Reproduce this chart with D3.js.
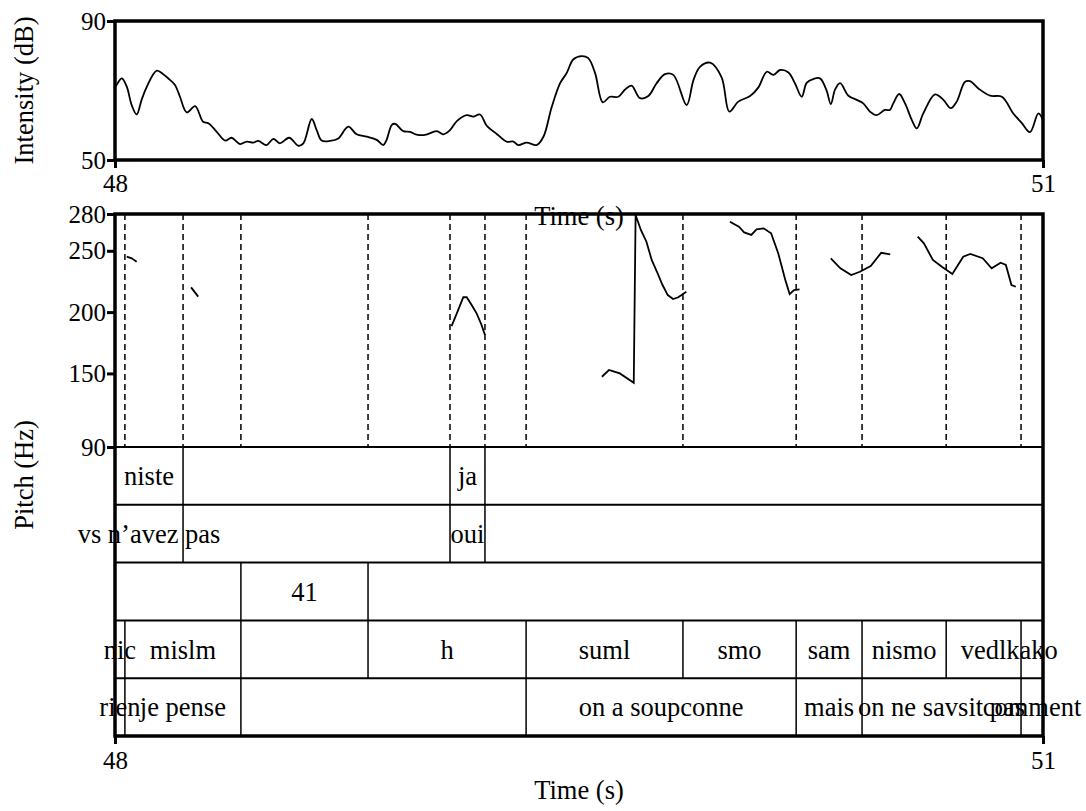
<!DOCTYPE html>
<html>
<head>
<meta charset="utf-8">
<script src="https://cdnjs.cloudflare.com/ajax/libs/d3/7.8.5/d3.min.js"></script>
<style>
    body { margin: 0; background: #fff; }
    text { font-family: "Liberation Serif", "Times New Roman", serif; font-size: 26.5px; fill: #000; }
    .tick text { font-size: 25px; }
</style>
</head>
<body>
<div id="chart"></div>
<script>
// time window (s)
const timeRange = [48, 51];
const intensityRange = [50, 90];
const pitchRange = [90, 280];
const pitchTicks = [90, 150, 200, 250, 280];

// intensity contour
const intensityTime = [48.000, 48.005, 48.022, 48.038, 48.054, 48.070, 48.086, 48.102, 48.135, 48.156,
    48.172, 48.194, 48.210, 48.232, 48.259, 48.285, 48.302, 48.329, 48.356, 48.377,
    48.404, 48.426, 48.447, 48.463, 48.490, 48.512, 48.533, 48.563, 48.593, 48.609,
    48.636, 48.652, 48.668, 48.695, 48.722, 48.754, 48.781, 48.814, 48.846, 48.867,
    48.878, 48.895, 48.906, 48.932, 48.954, 48.975, 49.002, 49.040, 49.061, 49.083,
    49.105, 49.137, 49.158, 49.180, 49.202, 49.234, 49.266, 49.288, 49.304, 49.331,
    49.363, 49.385, 49.412, 49.439, 49.460, 49.482, 49.509, 49.530, 49.552, 49.577,
    49.600, 49.627, 49.649, 49.670, 49.697, 49.724, 49.751, 49.778, 49.805, 49.848,
    49.870, 49.891, 49.924, 49.961, 49.986, 50.015, 50.053, 50.080, 50.107, 50.128,
    50.150, 50.177, 50.198, 50.220, 50.236, 50.257, 50.279, 50.300, 50.314, 50.328,
    50.344, 50.371, 50.398, 50.419, 50.441, 50.462, 50.489, 50.505, 50.516, 50.535,
    50.554, 50.576, 50.592, 50.613, 50.651, 50.678, 50.702, 50.721, 50.748, 50.764,
    50.791, 50.829, 50.867, 50.904, 50.931, 50.958, 50.985, 51.000];
const intensityDb = [71.0, 71.6, 73.5, 71.1, 65.8, 63.1, 67.3, 70.9, 75.7, 74.7,
    73.5, 71.6, 68.2, 63.7, 65.5, 61.0, 60.6, 58.1, 55.6, 56.4,
    54.6, 55.3, 55.0, 55.5, 54.3, 56.1, 54.8, 56.4, 54.1, 54.8,
    61.8, 58.6, 55.6, 55.5, 56.2, 59.6, 57.4, 56.7, 55.8, 54.3,
    55.8, 60.1, 60.4, 58.3, 58.1, 57.3, 57.2, 58.3, 57.4, 58.6,
    61.2, 62.9, 62.5, 63.1, 59.8, 57.5, 55.3, 55.3, 54.3, 55.0,
    54.3, 56.7, 65.3, 72.1, 75.0, 79.0, 79.9, 79.3, 75.0, 66.6,
    68.2, 68.2, 70.3, 71.4, 67.8, 68.4, 72.1, 74.7, 74.5, 65.8,
    73.0, 76.8, 78.0, 73.8, 63.9, 66.8, 68.4, 70.9, 75.4, 74.5,
    75.9, 75.2, 72.1, 68.2, 72.2, 73.3, 73.5, 70.1, 66.1, 70.3,
    72.1, 68.5, 67.3, 66.3, 63.9, 62.9, 64.4, 64.4, 66.3, 69.0,
    66.3, 61.5, 59.1, 63.4, 68.9, 67.3, 64.9, 66.8, 72.5, 72.7,
    70.6, 68.5, 68.2, 63.4, 60.7, 58.0, 63.4, 61.5];

// voiced pitch stretches [time, Hz]
const pitch1 = [[48.038, 245.2], [48.054, 243.9], [48.070, 241.1]];
const pitch2 = [[48.246, 220.2], [48.269, 212.6]];
const pitch3 = [[49.088, 188.6], [49.105, 199.0], [49.126, 212.1], [49.137, 212.1], [49.153, 205.8],
    [49.169, 199.0], [49.185, 189.5], [49.196, 181.3]];
const pitch4 = [[49.574, 147.3], [49.597, 152.8], [49.614, 151.4], [49.632, 150.0], [49.677, 142.4],
    [49.683, 279.2], [49.700, 267.0], [49.718, 257.4], [49.735, 242.5], [49.752, 232.9],
    [49.770, 222.1], [49.787, 213.9], [49.804, 210.7], [49.821, 212.1], [49.847, 216.6]];
const pitch5 = [[49.988, 273.7], [50.017, 269.6], [50.034, 265.0], [50.057, 262.9], [50.074, 267.5],
    [50.097, 268.3], [50.121, 264.3], [50.144, 248.0], [50.167, 226.2], [50.181, 214.7],
    [50.195, 218.0], [50.213, 218.6]];
const pitch6 = [[50.314, 243.9], [50.345, 235.7], [50.380, 230.2], [50.408, 232.9], [50.443, 237.6],
    [50.477, 248.4], [50.506, 247.1]];
const pitch7 = [[50.595, 261.5], [50.615, 256.1], [50.644, 242.5], [50.673, 237.0], [50.707, 231.1],
    [50.742, 245.2], [50.765, 247.4], [50.805, 243.9], [50.834, 235.7], [50.863, 240.3],
    [50.880, 238.4], [50.898, 222.1], [50.912, 220.7]];

// textgrid tiers: interval bounds and their labels
const tier1Bounds = [48, 48.220, 49.083, 49.196, 51];
const tier1Labels = ['niste', '', 'ja', ''];
const tier2Bounds = [48, 48.220, 49.083, 49.196, 51];
const tier2Labels = ['vs n’avez pas', '', 'oui', ''];
const tier3Bounds = [48, 48.407, 48.818, 51];
const tier3Labels = ['', '41', ''];
const tier4Bounds = [48, 48.032, 48.407, 48.818, 49.329, 49.836, 50.202, 50.415, 50.687, 50.929, 51];
const tier4Labels = ['nic', 'mislm', '', 'h', 'suml', 'smo', 'sam', 'nismo', 'vedl', 'kako'];
const tier5Bounds = [48, 48.032, 48.407, 49.329, 50.202, 50.415, 50.929, 51];
const tier5Labels = ['rien', 'je pense', '', 'on a soupconne', 'mais', 'on ne savsit pas', 'comment'];

const width = 1086, height = 811;
const left = 115, right = 1043;
const intTop = 21, intBottom = 160;
const pitchTop = 214, pitchBottom = 447, gridBottom = 736;

const svg = d3.select('#chart').append('svg')
    .attr('width', width)
    .attr('height', height);

const x = d3.scaleLinear().domain(timeRange).range([left, right]);
const yInt = d3.scaleLinear().domain(intensityRange).range([intBottom, intTop]);
const yPitch = d3.scaleLinear().domain(pitchRange).range([pitchBottom, pitchTop]);

function styleAxis(g) {
    g.select('.domain').remove();
    g.selectAll('.tick line').attr('stroke', '#000').attr('stroke-width', 3);
}

// ---- intensity panel ----
svg.append('g')
    .attr('transform', 'translate(' + left + ',0)')
    .call(d3.axisLeft(yInt).tickValues(intensityRange).tickSize(8).tickPadding(1))
    .call(styleAxis);

svg.append('g')
    .attr('transform', 'translate(0,' + intBottom + ')')
    .call(d3.axisBottom(x).tickValues(timeRange).tickFormat(d3.format('d')).tickSize(8).tickPadding(6))
    .call(styleAxis);

const intensityLine = d3.line()
    .x(function(d, i) { return x(intensityTime[i]); })
    .y(function(d) { return yInt(d); })
    .curve(d3.curveCatmullRom);

svg.append('path')
    .datum(intensityDb)
    .attr('fill', 'none')
    .attr('stroke', '#000')
    .attr('stroke-width', 1.8)
    .attr('d', intensityLine);

svg.append('rect')
    .attr('x', left).attr('y', intTop)
    .attr('width', right - left).attr('height', intBottom - intTop)
    .attr('fill', 'none').attr('stroke', '#000').attr('stroke-width', 3.5);

svg.append('text')
    .attr('transform', 'translate(33,' + (intTop + intBottom) / 2 + ') rotate(-90)')
    .attr('text-anchor', 'middle')
    .text('Intensity (dB)');

svg.append('text')
    .attr('x', (left + right) / 2)
    .attr('y', 225)
    .attr('text-anchor', 'middle')
    .text('Time (s)');

// ---- pitch panel + tiers ----
const tiers = [
    { bounds: tier1Bounds, labels: tier1Labels },
    { bounds: tier2Bounds, labels: tier2Labels },
    { bounds: tier3Bounds, labels: tier3Labels },
    { bounds: tier4Bounds, labels: tier4Labels },
    { bounds: tier5Bounds, labels: tier5Labels }
];
const tierH = (gridBottom - pitchBottom) / tiers.length;

// dashed boundaries through the pitch area: every interior tier boundary
const allBounds = Array.from(new Set(tiers.flatMap(function(t) { return t.bounds.slice(1, -1); })))
    .sort(d3.ascending);

svg.append('g').selectAll('line')
    .data(allBounds)
    .enter().append('line')
    .attr('x1', function(d) { return x(d); })
    .attr('x2', function(d) { return x(d); })
    .attr('y1', pitchTop)
    .attr('y2', pitchBottom)
    .attr('stroke', '#000')
    .attr('stroke-width', 1.5)
    .attr('stroke-dasharray', '6,4');

const pitchLine = d3.line()
    .x(function(d) { return x(d[0]); })
    .y(function(d) { return yPitch(d[1]); });

svg.append('g').selectAll('path')
    .data([pitch1, pitch2, pitch3, pitch4, pitch5, pitch6, pitch7])
    .enter().append('path')
    .attr('fill', 'none')
    .attr('stroke', '#000')
    .attr('stroke-width', 1.8)
    .attr('d', pitchLine);

tiers.forEach(function(tier, k) {
    const top = pitchBottom + k * tierH;
    const g = svg.append('g');
    g.append('line')
        .attr('x1', left).attr('x2', right)
        .attr('y1', top).attr('y2', top)
        .attr('stroke', '#000').attr('stroke-width', 2);
    g.selectAll('line.bound')
        .data(tier.bounds.slice(1, -1))
        .enter().append('line')
        .attr('class', 'bound')
        .attr('x1', function(d) { return x(d); })
        .attr('x2', function(d) { return x(d); })
        .attr('y1', top).attr('y2', top + tierH)
        .attr('stroke', '#000').attr('stroke-width', 1.5);
    g.selectAll('text')
        .data(tier.labels)
        .enter().append('text')
        .attr('x', function(d, i) { return x((tier.bounds[i] + tier.bounds[i + 1]) / 2); })
        .attr('y', top + tierH / 2)
        .attr('dy', '0.35em')
        .attr('text-anchor', 'middle')
        .text(function(d) { return d; });
});

svg.append('rect')
    .attr('x', left).attr('y', pitchTop)
    .attr('width', right - left).attr('height', gridBottom - pitchTop)
    .attr('fill', 'none').attr('stroke', '#000').attr('stroke-width', 3.5);

svg.append('g')
    .attr('transform', 'translate(' + left + ',0)')
    .call(d3.axisLeft(yPitch).tickValues(pitchTicks).tickSize(8).tickPadding(1))
    .call(styleAxis);

svg.append('g')
    .attr('transform', 'translate(0,' + gridBottom + ')')
    .call(d3.axisBottom(x).tickValues(timeRange).tickFormat(d3.format('d')).tickSize(8).tickPadding(7))
    .call(styleAxis);

svg.append('text')
    .attr('transform', 'translate(33,' + (pitchTop + gridBottom) / 2 + ') rotate(-90)')
    .attr('text-anchor', 'middle')
    .text('Pitch (Hz)');

svg.append('text')
    .attr('x', (left + right) / 2)
    .attr('y', 799)
    .attr('text-anchor', 'middle')
    .text('Time (s)');
</script>
</body>
</html>
